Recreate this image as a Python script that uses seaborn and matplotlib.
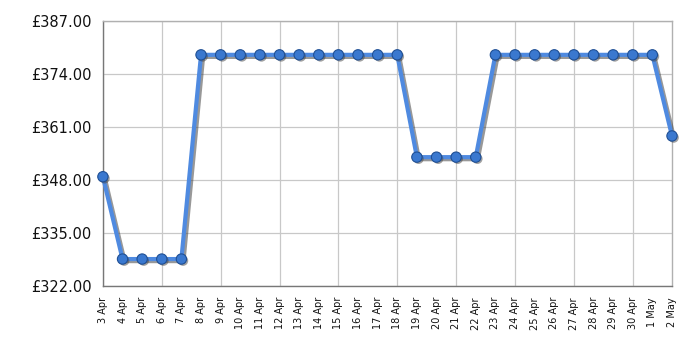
import matplotlib
matplotlib.use("Agg")
import matplotlib.pyplot as plt
import matplotlib.patheffects as pe
import seaborn as sns
import pandas as pd
import numpy as np

dates = ["3 Apr", "4 Apr", "5 Apr", "6 Apr", "7 Apr", "8 Apr", "9 Apr", "10 Apr",
         "11 Apr", "12 Apr", "13 Apr", "14 Apr", "15 Apr", "16 Apr", "17 Apr", "18 Apr",
         "19 Apr", "20 Apr", "21 Apr", "22 Apr", "23 Apr", "24 Apr", "25 Apr", "26 Apr",
         "27 Apr", "28 Apr", "29 Apr", "30 Apr", "1 May", "2 May"]
prices = [348.8, 328.6, 328.6, 328.6, 328.6, 378.7, 378.7, 378.7,
          378.7, 378.7, 378.7, 378.7, 378.7, 378.7, 378.7, 378.7,
          353.6, 353.6, 353.6, 353.6, 378.7, 378.7, 378.7, 378.7,
          378.7, 378.7, 378.7, 378.7, 378.7, 358.8]
y_ticks = [322, 335, 348, 361, 374, 387]

sns.set_style("white")
df = pd.DataFrame({"i": np.arange(len(dates)), "price": prices})

fig = plt.figure(figsize=(7, 3.5), dpi=100)
ax = fig.add_axes([0.147, 0.183, 0.813, 0.757])

sns.lineplot(data=df, x="i", y="price", ax=ax, color="#4f8ae0", linewidth=3,
             clip_on=False, zorder=3,
             path_effects=[pe.SimpleLineShadow(offset=(1.5, -1.5), shadow_color="#444444", alpha=0.55),
                           pe.Normal()])
sns.scatterplot(data=df, x="i", y="price", ax=ax, s=55, color="#3a78cf",
                edgecolor="#1f4f94", linewidth=0.8, clip_on=False, zorder=4,
                path_effects=[pe.SimplePatchShadow(offset=(1.2, -1.2), shadow_rgbFace="#444444", alpha=0.5),
                              pe.Normal()])

ax.set_xlim(0, len(dates) - 1)
ax.set_ylim(322, 387)
ax.set_yticks(y_ticks)
ax.set_yticklabels([f"£{v:.2f}" for v in y_ticks], fontsize=10.5, color="#111111")
ax.set_xticks(np.arange(len(dates)))
ax.set_xticklabels(dates, rotation=90, fontsize=7, color="#111111")
ax.tick_params(axis="x", length=5, color="#555555", width=1, direction="out", pad=3)
ax.tick_params(axis="y", length=5, color="#555555", width=1, direction="out", pad=3)
ax.grid(True, color="#c8c8c8", linewidth=0.9)
for i, t in enumerate(ax.xaxis.get_major_ticks()):
    if i % 3:
        t.tick1line.set_visible(False)
        t.gridline.set_visible(False)
ax.set_axisbelow(True)
ax.set_xlabel("")
ax.set_ylabel("")
for s in ["left", "bottom"]:
    ax.spines[s].set_color("#777777")
    ax.spines[s].set_linewidth(1)
for s in ["top", "right"]:
    ax.spines[s].set_color("#b0b0b0")
    ax.spines[s].set_linewidth(1)

fig.savefig("out.png", dpi=100, facecolor="white")
